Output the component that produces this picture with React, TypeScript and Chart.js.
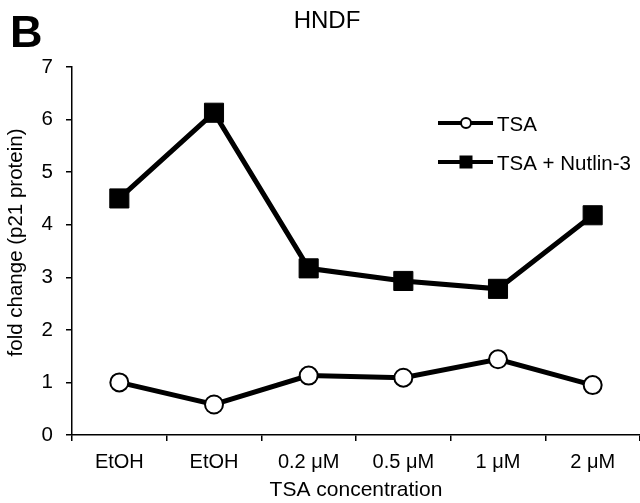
import React, { useEffect, useRef } from "react";
import { Chart, registerables } from "chart.js";

Chart.register(...registerables);

const categories = ["EtOH", "EtOH", "0.2 μM", "0.5 μM", "1 μM", "2 μM"];
const tsaValues = [1.0, 0.58, 1.13, 1.09, 1.44, 0.95];
const nutlinValues = [4.5, 6.13, 3.17, 2.93, 2.78, 4.18];
const seriesNames = ["TSA", "TSA + Nutlin-3"];
const yTicks = [0, 1, 2, 3, 4, 5, 6, 7];
const chartTitle = "HNDF";
const panelLabel = "B";
const xTitle = "TSA concentration";
const yTitle = "fold change (p21 protein)";

const FONT = 'Arial, "Liberation Sans", sans-serif';

// stretch the plot area to the right edge of the canvas, as in the reference
const fullWidthPlugin = {
  id: "fullWidth",
  afterLayout(chart: any) {
    const x = chart.scales.x;
    const R = chart.width;
    chart.chartArea.right = R;
    chart.chartArea.width = R - chart.chartArea.left;
    x.right = R;
    x.width = R - x.left;
    x.configure();
  },
};

const overlayPlugin = {
  id: "overlay",
  afterDraw(chart: any) {
    const ctx = chart.ctx;
    ctx.save();
    ctx.fillStyle = "#000";
    ctx.textBaseline = "alphabetic";
    ctx.font = `bold 45px ${FONT}`;
    ctx.textAlign = "left";
    ctx.fillText(panelLabel, 10, 47);
    ctx.font = `24px ${FONT}`;
    ctx.textAlign = "center";
    ctx.fillText(chartTitle, 327, 28);

    // y axis title
    ctx.save();
    ctx.translate(22, 242.5);
    ctx.rotate(-Math.PI / 2);
    ctx.font = `20.5px ${FONT}`;
    ctx.textAlign = "center";
    ctx.textBaseline = "alphabetic";
    ctx.fillText(yTitle, 0, 0);
    ctx.restore();

    // legend
    const rows = [
      { y: 123, ds: chart.data.datasets[0] },
      { y: 162, ds: chart.data.datasets[1] },
    ];
    rows.forEach((r) => {
      ctx.strokeStyle = "#000";
      ctx.lineWidth = 4;
      ctx.beginPath();
      ctx.moveTo(438, r.y);
      ctx.lineTo(493, r.y);
      ctx.stroke();
      if (r.ds.pointStyle === "rect") {
        ctx.fillStyle = "#000";
        ctx.fillRect(466 - 6.5, r.y - 6.5, 13, 13);
      } else {
        ctx.beginPath();
        ctx.arc(466, r.y, 5, 0, Math.PI * 2);
        ctx.fillStyle = "#fff";
        ctx.fill();
        ctx.lineWidth = 2;
        ctx.stroke();
      }
      ctx.fillStyle = "#000";
      ctx.font = `20.5px ${FONT}`;
      ctx.textAlign = "left";
      ctx.textBaseline = "alphabetic";
      ctx.fillText(r.ds.label, 497, r.y + 7.5);
    });
    ctx.restore();
  },
};

export default function App() {
  const ref = useRef<HTMLCanvasElement>(null);
  useEffect(() => {
    const chart = new Chart(ref.current!, {
      type: "line",
      data: {
        labels: categories,
        datasets: [
          {
            label: seriesNames[0],
            data: tsaValues,
            borderColor: "#000",
            borderWidth: 5,
            backgroundColor: "#fff",
            pointStyle: "circle",
            pointRadius: 9,
            pointBorderWidth: 2,
            pointBorderColor: "#000",
            pointBackgroundColor: "#fff",
            tension: 0,
          },
          {
            label: seriesNames[1],
            data: nutlinValues,
            borderColor: "#000",
            borderWidth: 5,
            backgroundColor: "#000",
            pointStyle: "rect",
            pointRadius: 13.5,
            pointBorderWidth: 1,
            pointBorderColor: "#000",
            pointBackgroundColor: "#000",
            tension: 0,
          },
        ],
      },
      options: {
        animation: false,
        responsive: false,
        maintainAspectRatio: false,
        layout: { padding: { top: 67, right: 0, bottom: 0, left: 0 } },
        plugins: {
          legend: { display: false },
          tooltip: { enabled: false },
          title: { display: false },
        },
        scales: {
          x: {
            type: "category",
            offset: true,
            border: { display: true, color: "#000", width: 1.5 },
            grid: {
              display: true,
              offset: true,
              drawOnChartArea: false,
              drawTicks: true,
              tickLength: 6,
              color: "#000",
              lineWidth: 1.5,
            },
            ticks: {
              color: "#000",
              font: { family: FONT, size: 20 },
              padding: 9,
              maxRotation: 0,
              autoSkip: false,
            },
            title: {
              display: true,
              text: xTitle,
              color: "#000",
              font: { family: FONT, size: 21 },
              padding: { top: 0, bottom: 0 },
            },
            afterFit(scale: any) {
              scale.height = 68;
              scale.paddingLeft = 0;
              scale.paddingRight = 0;
            },
          },
          y: {
            min: 0,
            max: 7,
            border: { display: true, color: "#000", width: 1.5 },
            grid: {
              display: true,
              drawOnChartArea: false,
              drawTicks: true,
              tickLength: 6,
              color: "#000",
              lineWidth: 1.5,
            },
            afterBuildTicks(scale: any) {
              scale.ticks = yTicks.map((v) => ({ value: v }));
            },
            ticks: {
              color: "#000",
              font: { family: FONT, size: 20.5 },
              padding: 13,
            },
            afterFit(scale: any) {
              scale.width = 72;
            },
          },
        },
      },
      plugins: [fullWidthPlugin, overlayPlugin],
    });
    return () => chart.destroy();
  }, []);
  return (
    <div style={{ position: "absolute", left: 0, top: 0, width: 640, height: 503, overflow: "hidden" }}>
      <canvas ref={ref} width={640} height={503} style={{ display: "block", width: 640, height: 503 }} />
    </div>
  );
}
